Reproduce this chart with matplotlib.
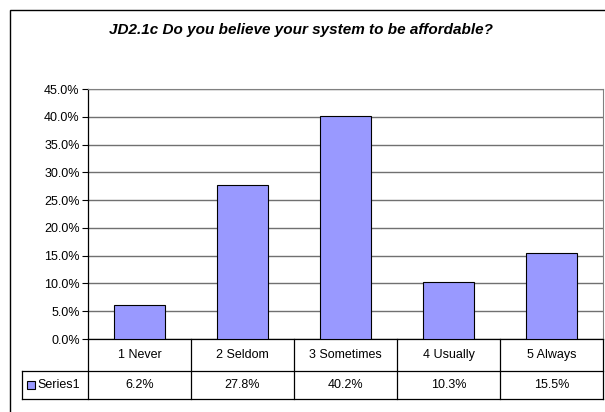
import matplotlib.pyplot as plt
from matplotlib.patches import Rectangle
from matplotlib.transforms import blended_transform_factory

plt.rcParams['font.family'] = ['Liberation Sans', 'DejaVu Sans']

categories = ['1 Never', '2 Seldom', '3 Sometimes', '4 Usually', '5 Always']
values = [6.2, 27.8, 40.2, 10.3, 15.5]
value_labels = ['6.2%', '27.8%', '40.2%', '10.3%', '15.5%']
series_name = 'Series1'
yticks = [0, 5, 10, 15, 20, 25, 30, 35, 40, 45]

W, H = 605, 412
fig = plt.figure(figsize=(W / 100, H / 100), dpi=100)

# outer chart frame (runs off the right/bottom of the picture)
fig.patches.append(Rectangle((10 / W, -0.05), 1.0, 1 - 10 / H + 0.05,
                             transform=fig.transFigure, fill=False,
                             edgecolor='black', linewidth=1.0))

fig.text(301 / W, 1 - 30 / H, 'JD2.1c Do you believe your system to be affordable?',
         ha='center', va='center', fontsize=11, fontweight='bold', fontstyle='italic')

left, right, top, bottom = 88, 603, 89, 339
ax = fig.add_axes([left / W, 1 - bottom / H, (right - left) / W, (bottom - top) / H])

x = list(range(len(categories)))
ax.bar(x, values, width=0.5, color='#9999FF', edgecolor='black', linewidth=0.8, zorder=3)

ax.set_xlim(-0.5, len(categories) - 0.5)
ax.set_ylim(0, 45)
ax.set_yticks(yticks)
ax.set_yticklabels(['%.1f%%' % t for t in yticks], fontsize=9)
ax.set_xticks([])
ax.yaxis.grid(True, color='#707070', linewidth=1.0, zorder=0)
ax.tick_params(axis='y', direction='out', length=4, width=0.8, color='black', pad=2)
for s in ['top', 'right']:
    ax.spines[s].set_color('#808080')
for s in ['left', 'bottom']:
    ax.spines[s].set_color('black')
    ax.spines[s].set_linewidth(0.9)

# data table under the axis
tr = blended_transform_factory(ax.transData, ax.transAxes)
ph = bottom - top
r1 = -32 / ph
r2 = r1 - 28 / ph
xl = -0.5 - 66 / 103.0
xr = len(categories) - 0.5
lk = dict(color='black', linewidth=0.9, transform=tr, clip_on=False)
ax.plot([xl, xr], [r1, r1], **lk)
ax.plot([xl, xr], [r2, r2], **lk)
ax.plot([xl, xl], [r1, r2], **lk)
for i in range(len(categories) + 1):
    ax.plot([i - 0.5, i - 0.5], [0, r2], **lk)
for i, (c, v) in enumerate(zip(categories, value_labels)):
    ax.text(i, r1 / 2, c, ha='center', va='center', fontsize=9, transform=tr)
    ax.text(i, (r1 + r2) / 2, v, ha='center', va='center', fontsize=9, transform=tr)

ax.add_patch(Rectangle((xl + 5 / 103.0, (r1 + r2) / 2 - 4 / ph), 8 / 103.0, 8 / ph,
                       transform=tr, clip_on=False, facecolor='#9999FF',
                       edgecolor='black', linewidth=0.8))
ax.text(xl + 15 / 103.0, (r1 + r2) / 2, series_name, ha='left', va='center',
        fontsize=9, transform=tr)

fig.savefig('out.png', dpi=100)
